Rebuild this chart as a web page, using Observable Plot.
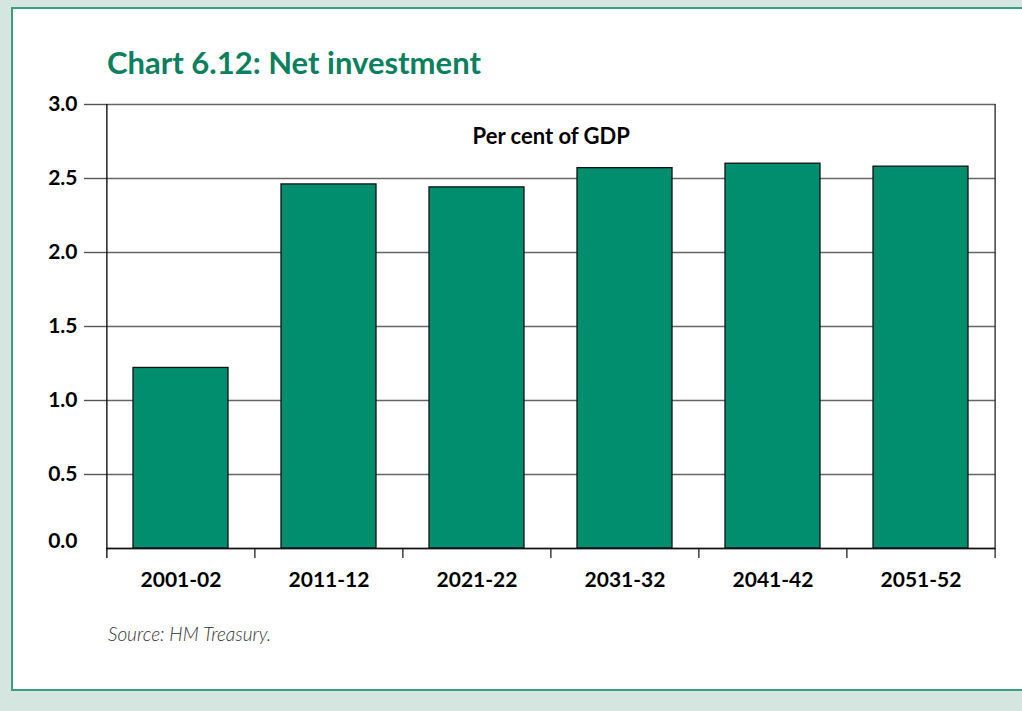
<!DOCTYPE html>
<html>
<head>
<meta charset="utf-8">
<script src="https://cdn.jsdelivr.net/npm/d3@7"></script>
<script src="https://cdn.jsdelivr.net/npm/@observablehq/plot@0.6"></script>
<style>
html, body { margin:0; padding:0; width:1022px; height:711px; overflow:hidden; background:#d5e6e0; font-family: Lato, "Open Sans", sans-serif; }
#panel { position:absolute; left:11px; top:7px; width:1100px; height:680px; background:#fff; border:2px solid #3a9f80; }
#title { position:absolute; left:107px; top:47px; margin:0; font-size:31px; line-height:31px; font-weight:bold; color:#0b7f5e; white-space:nowrap; }
#chart { position:absolute; left:0; top:90px; }
#caption { position:absolute; left:108px; top:624px; margin:0; font-size:19px; line-height:19px; font-style:italic; font-weight:300; color:#333; white-space:nowrap; }
</style>
</head>
<body>
<div id="panel"></div>
<h1 id="title">Chart 6.12: Net investment</h1>
<div id="chart"></div>
<p id="caption">Source: HM Treasury.</p>
<script>
const periods = ["2001-02", "2011-12", "2021-22", "2031-32", "2041-42", "2051-52"];
const values = [1.22, 2.46, 2.44, 2.57, 2.60, 2.58];
const yTicks = [0, 0.5, 1.0, 1.5, 2.0, 2.5, 3.0];
const unitLabel = "Per cent of GDP";

const data = periods.map((p, i) => ({period: p, value: values[i]}));

const W = 1022, H = 520;
const mL = 106, mR = 26.5, mT = 14, mB = 62;
const step = (W - mL - mR) / periods.length;

const plot = Plot.plot({
  width: W,
  height: H,
  marginLeft: mL,
  marginRight: mR,
  marginTop: mT,
  marginBottom: mB,
  style: {fontFamily: "Lato, 'Open Sans', sans-serif", fontSize: "21px", fontWeight: "bold", color: "#000", background: "transparent"},
  x: {domain: periods, paddingInner: 0.36, paddingOuter: 0.18, label: null},
  y: {domain: [0, 3], label: null},
  marks: [
    Plot.gridY(yTicks, {stroke: "#666", strokeOpacity: 1, strokeWidth: 1.4}),
    Plot.axisY(yTicks.filter(d => d !== 0), {tickSize: 22, tickPadding: 7, stroke: "#555", strokeWidth: 1.4, tickFormat: d => d.toFixed(1), label: null}),
    Plot.axisY([0], {tickSize: 0, tickPadding: 29, dy: -7.5, tickFormat: d => d.toFixed(1), label: null}),
    Plot.ruleX([periods[0]], {x: d => d, dx: -step / 2, stroke: "#111", strokeWidth: 1.4, insetBottom: -10}),
    Plot.ruleX([periods[periods.length - 1]], {x: d => d, dx: step / 2, stroke: "#333", strokeWidth: 1.4, insetBottom: -10}),
    Plot.ruleX(periods.slice(1), {x: d => d, y1: 0, y2: 0, dx: -step / 2, stroke: "#333", strokeWidth: 1.4, insetBottom: -10}),
    Plot.barY(data, {x: "period", y: "value", fill: "#008e6f", stroke: "#111", strokeWidth: 1.3}),
    Plot.ruleY([0], {stroke: "#111", strokeWidth: 1.4}),
    Plot.axisX({tickSize: 0, tickPadding: 24, label: null}),
    Plot.text([unitLabel], {frameAnchor: "top", dy: 24, fontSize: 22, fontWeight: "bold", fill: "#000"})
  ]
});
document.getElementById("chart").appendChild(plot);
</script>
</body>
</html>
